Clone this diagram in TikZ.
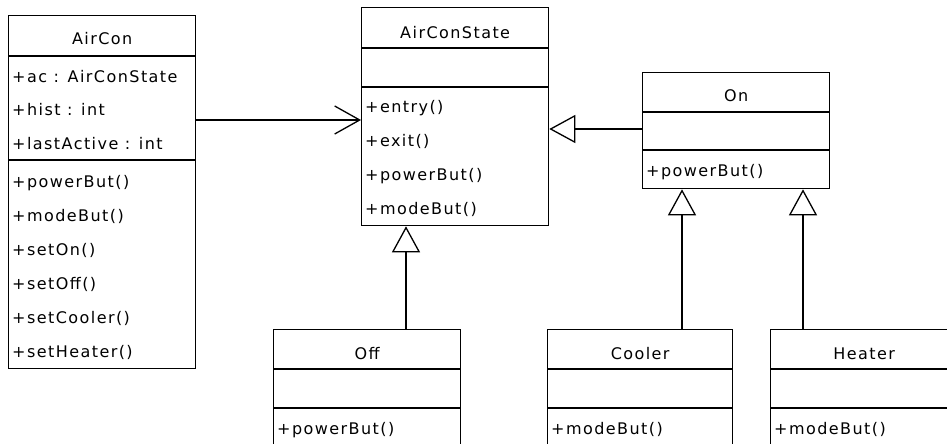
\documentclass[tikz,border=0pt]{standalone}
\usepackage{fontspec}
\setmainfont{DejaVu Sans}[LetterSpace=9.0]
\usetikzlibrary{arrows.meta}

\begin{document}
\begin{tikzpicture}[x=1pt,y=-1pt,
        classbox/.style={draw, line width=1.3pt, minimum width=187pt, inner sep=0pt, anchor=north west},
        cname/.style={anchor=base, inner sep=0pt, font=\fontsize{16}{19}\selectfont},
        member/.style={anchor=base west, inner sep=0pt, font=\fontsize{16}{19}\selectfont},
        sep/.style={line width=1.3pt},
        assoc/.style={line width=1.3pt, -{Straight Barb[length=25pt, width=28pt]}},
        inherit/.style={line width=1.3pt, -{Triangle[open, length=26pt, width=28pt, fill=white]}}]
        \useasboundingbox (0,0) rectangle (947,444);
        \clip (0,0) rectangle (947,444);

        \node[classbox, minimum height=353pt] (aircon) at (8,15) {};
        \node[classbox, minimum height=218pt] (state) at (361,7) {};
        \node[classbox, minimum height=116pt] (on) at (642,72) {};
        \node[classbox, minimum height=160pt] (off) at (273,329) {};
        \node[classbox, minimum height=160pt, minimum width=185pt] (cooler) at (547,329) {};
        \node[classbox, minimum height=160pt] (heater) at (770,329) {};

        \draw[sep] (aircon.west |- 0,56) -- (aircon.east |- 0,56);
        \draw[sep] (aircon.west |- 0,160) -- (aircon.east |- 0,160);
        \draw[sep] (state.west |- 0,48) -- (state.east |- 0,48);
        \draw[sep] (state.west |- 0,87) -- (state.east |- 0,87);
        \draw[sep] (on.west |- 0,112) -- (on.east |- 0,112);
        \draw[sep] (on.west |- 0,150) -- (on.east |- 0,150);
        \foreach \c in {off,cooler,heater} {
            \draw[sep] (\c.west |- 0,369) -- (\c.east |- 0,369);
            \draw[sep] (\c.west |- 0,408) -- (\c.east |- 0,408);
        }

        \node[cname] (airconT) at (aircon.north |- 0,45) {AirCon};
        \node[member] (ac) at (12,82) {+ac : AirConState};
        \node[member] (hist) at (12,115) {+hist : int};
        \node[member] (last) at (12,149) {+lastActive : int};
        \node[member] (pwrA) at (12,187) {+powerBut()};
        \node[member] (modeA) at (12,221) {+modeBut()};
        \node[member] (setOn) at (12,255) {+setOn()};
        \node[member] (setOff) at (12,289) {+setOff()};
        \node[member] (setCool) at (12,323) {+setCooler()};
        \node[member] (setHeat) at (12,357) {+setHeater()};

        \node[cname] (stateT) at (state.north |- 0,38) {AirConState};
        \node[member] (entry) at (365,112) {+entry()};
        \node[member] (exit) at (365,146) {+exit()};
        \node[member] (pwrS) at (365,180) {+powerBut()};
        \node[member] (modeS) at (365,214) {+modeBut()};

        \node[cname] (onT) at (on.north |- 0,101) {On};
        \node[member] (pwrOn) at (646,176) {+powerBut()};

        \node[cname] (offT) at (off.north |- 0,359) {Off};
        \node[member] (pwrOff) at (277,434) {+powerBut()};
        \node[cname] (coolT) at (cooler.north |- 0,359) {Cooler};
        \node[member] (modeC) at (551,434) {+modeBut()};
        \node[cname] (heatT) at (heater.north |- 0,359) {Heater};
        \node[member] (modeH) at (774,434) {+modeBut()};

        \draw[assoc] (aircon.east |- 0,120) -- (state.west |- 0,120);
        \draw[inherit] (on.west |- 0,129) -- (state.east |- 0,129);
        \draw[inherit] (off.north -| 406,0) -- (state.south -| 406,0);
        \draw[inherit] (cooler.north -| 682,0) -- (on.south -| 682,0);
        \draw[inherit] (heater.north -| 803,0) -- (on.south -| 803,0);
\end{tikzpicture}
\end{document}
